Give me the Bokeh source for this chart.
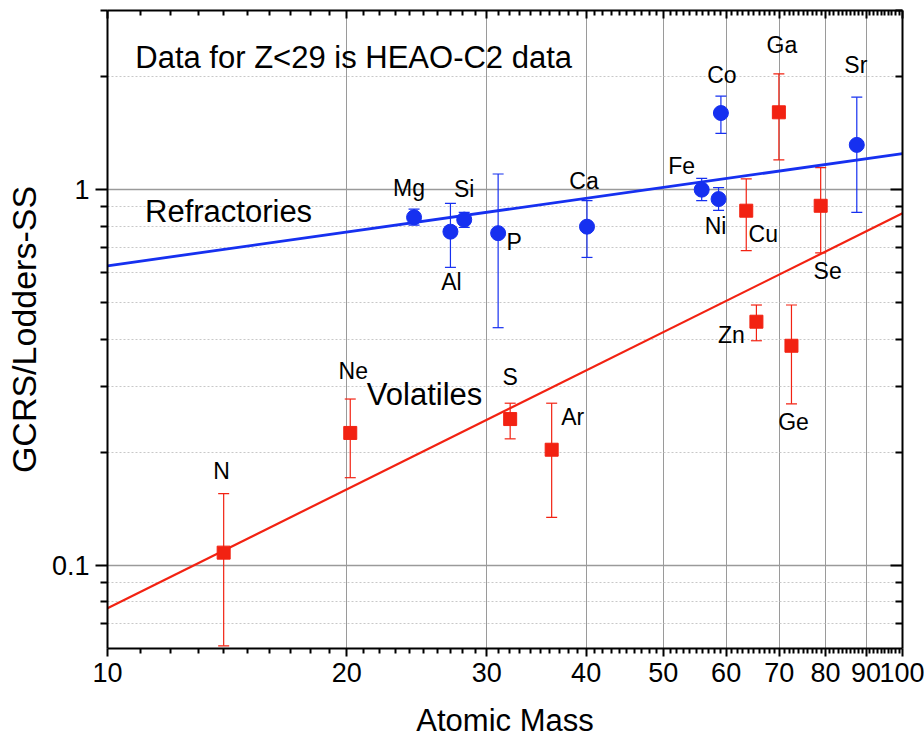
from bokeh.plotting import figure
from bokeh.models import (ColumnDataSource, Whisker, TeeHead, FixedTicker, LogAxis,
                          Range1d, Label)
from bokeh.core.properties import value
from bokeh.embed import file_html
from bokeh.resources import INLINE

# ---- data: GCRS abundance relative to Lodders solar system ----
ref_elements = ["Mg", "Al", "Si", "P", "Ca", "Fe", "Ni", "Co", "Sr"]
ref_mass = [24.3, 27.0, 28.1, 31.0, 40.1, 55.9, 58.7, 59.1, 87.6]
ref_ratio = [0.844, 0.773, 0.832, 0.766, 0.797, 1.00, 0.944, 1.60, 1.316]
ref_hi = [0.888, 0.919, 0.870, 1.101, 0.935, 1.072, 1.012, 1.774, 1.763]
ref_lo = [0.805, 0.621, 0.793, 0.429, 0.660, 0.935, 0.881, 1.413, 0.870]

vol_elements = ["N", "Ne", "S", "Ar", "Cu", "Zn", "Ga", "Ge", "Se"]
vol_mass = [14.0, 20.2, 32.1, 36.2, 63.6, 65.5, 69.9, 72.5, 78.9]
vol_ratio = [0.108, 0.225, 0.245, 0.203, 0.879, 0.445, 1.607, 0.384, 0.906]
vol_hi = [0.155, 0.277, 0.270, 0.270, 1.068, 0.493, 2.035, 0.493, 1.145]
vol_lo = [0.061, 0.171, 0.217, 0.134, 0.688, 0.396, 1.20, 0.269, 0.679]

# power-law fits, evaluated at the ends of the mass axis
fit_mass = [10, 100]
ref_fit = [0.627, 1.247]
vol_fit = [0.0768, 0.865]

x_ticks = [10, 20, 30, 40, 50, 60, 70, 80, 90, 100]
x_minor = [m for m in range(11, 100) if m % 10]
y_ticks = [0.1, 1]
y_minor = [0.07, 0.08, 0.09, 0.2, 0.3, 0.4, 0.5, 0.6, 0.7, 0.8, 0.9, 2, 3]

# label placement (pixels from each point: right, down)
ref_dx = [-5, 1, 0, 16, -3, -20, -3, 1, -1]
ref_dy = [-29, 50, -31, 9, -46, -24, 27, -38, -80]
vol_dx = [-2, 3, 0, 21, 17, -25, 3, 2, 7]
vol_dy = [-82, -62, -42, -33, 23, 13, -67, 76, 65]

BLUE = "#1630f0"
RED = "#f22212"
FONT = "Liberation Sans"

p = figure(width=924, height=740, x_axis_type="log", y_axis_type="log",
           x_range=Range1d(10, 100), y_range=Range1d(0.06, 3.0),
           output_backend="svg", toolbar_location=None,
           background_fill_color="white", border_fill_color="white")
p.min_border_left = 107
p.min_border_right = 22
p.min_border_top = 10
p.min_border_bottom = 92
p.outline_line_color = None

xt = FixedTicker(ticks=x_ticks, minor_ticks=x_minor)
yt = FixedTicker(ticks=y_ticks, minor_ticks=y_minor)

# bottom / left axes
xa = p.xaxis[0]
xa.ticker = xt
xa.major_label_overrides = {t: str(t) for t in x_ticks}
ya = p.yaxis[0]
ya.ticker = yt
ya.major_label_overrides = {0.1: "0.1", 1: "1"}

for ax in (xa, ya):
    ax.axis_line_width = 2
    ax.axis_line_color = "black"
    ax.major_tick_line_width = 2
    ax.minor_tick_line_width = 2
    ax.major_tick_in = 0
    ax.minor_tick_in = 0
    ax.major_label_text_font = FONT
    ax.major_label_text_font_size = "27px"
    ax.major_label_text_color = "black"
    ax.axis_label_text_font = FONT
    ax.axis_label_text_font_style = "normal"
    ax.axis_label_text_color = "black"

xa.major_tick_out = 8
xa.minor_tick_out = 5
xa.major_label_standoff = 6
xa.axis_label = "Atomic Mass"
xa.axis_label_text_font_size = "31px"
xa.axis_label_standoff = 18

ya.major_tick_out = 12
ya.minor_tick_out = 7
ya.major_label_standoff = 6
ya.axis_label = "GCRS/Lodders-SS"
ya.axis_label_text_font_size = "34px"
ya.axis_label_standoff = 6

# mirrored top / right axes with inward ticks and no labels
top = LogAxis(ticker=xt, major_tick_in=8, major_tick_out=0, minor_tick_in=5,
              minor_tick_out=0, major_label_overrides={t: "" for t in x_ticks},
              major_label_standoff=0, axis_line_width=2, major_tick_line_width=2,
              minor_tick_line_width=2)
right = LogAxis(ticker=yt, major_tick_in=12, major_tick_out=0, minor_tick_in=7,
                minor_tick_out=0, major_label_overrides={0.1: "", 1: ""},
                major_label_standoff=0, axis_line_width=2, major_tick_line_width=2,
                minor_tick_line_width=2)
p.add_layout(top, "above")
p.add_layout(right, "right")

# grids
p.xgrid.ticker = FixedTicker(ticks=x_ticks[1:-1])
p.xgrid.grid_line_color = "#9a9a9a"
p.xgrid.grid_line_width = 1
p.ygrid.ticker = yt
p.ygrid.grid_line_color = "#9a9a9a"
p.ygrid.grid_line_width = 1.5
p.ygrid.minor_grid_line_color = "#c8c8c8"
p.ygrid.minor_grid_line_dash = "2 2"
p.ygrid.minor_grid_line_width = 1

# fit lines
p.line(fit_mass, ref_fit, line_color=BLUE, line_width=2.8)
p.line(fit_mass, vol_fit, line_color=RED, line_width=2.2)

ref_src = ColumnDataSource(dict(x=ref_mass, y=ref_ratio, hi=ref_hi, lo=ref_lo,
                                name=ref_elements, dx=ref_dx, dy=ref_dy))
vol_src = ColumnDataSource(dict(x=vol_mass, y=vol_ratio, hi=vol_hi, lo=vol_lo,
                                name=vol_elements, dx=vol_dx, dy=vol_dy))

for src, col in ((ref_src, BLUE), (vol_src, RED)):
    w = Whisker(source=src, base="x", upper="hi", lower="lo", dimension="height",
                line_color=col, line_width=1.2,
                upper_head=TeeHead(size=11, line_color=col, line_width=1.2),
                lower_head=TeeHead(size=11, line_color=col, line_width=1.2))
    p.add_layout(w)

p.scatter("x", "y", source=ref_src, marker="circle", size=15,
          fill_color=BLUE, line_color=BLUE)
p.scatter("x", "y", source=vol_src, marker="square", size=13,
          fill_color=RED, line_color=RED)

for src in (ref_src, vol_src):
    p.text("x", "y", text="name", source=src, x_offset="dx", y_offset="dy",
           text_align="center", text_baseline="middle",
           text_font=value(FONT), text_font_size="23px", text_color="black")

# annotations
for x, y, txt in ((20.4, 2.25, "Data for Z<29 is HEAO-C2 data"),
                  (14.2, 0.874, "Refractories"),
                  (25.05, 0.284, "Volatiles")):
    p.add_layout(Label(x=x, y=y, text=txt, text_align="center",
                       text_baseline="middle", text_font=FONT,
                       text_font_size="31px", text_color="black"))

open("out.html", "w").write(file_html(p, INLINE))
